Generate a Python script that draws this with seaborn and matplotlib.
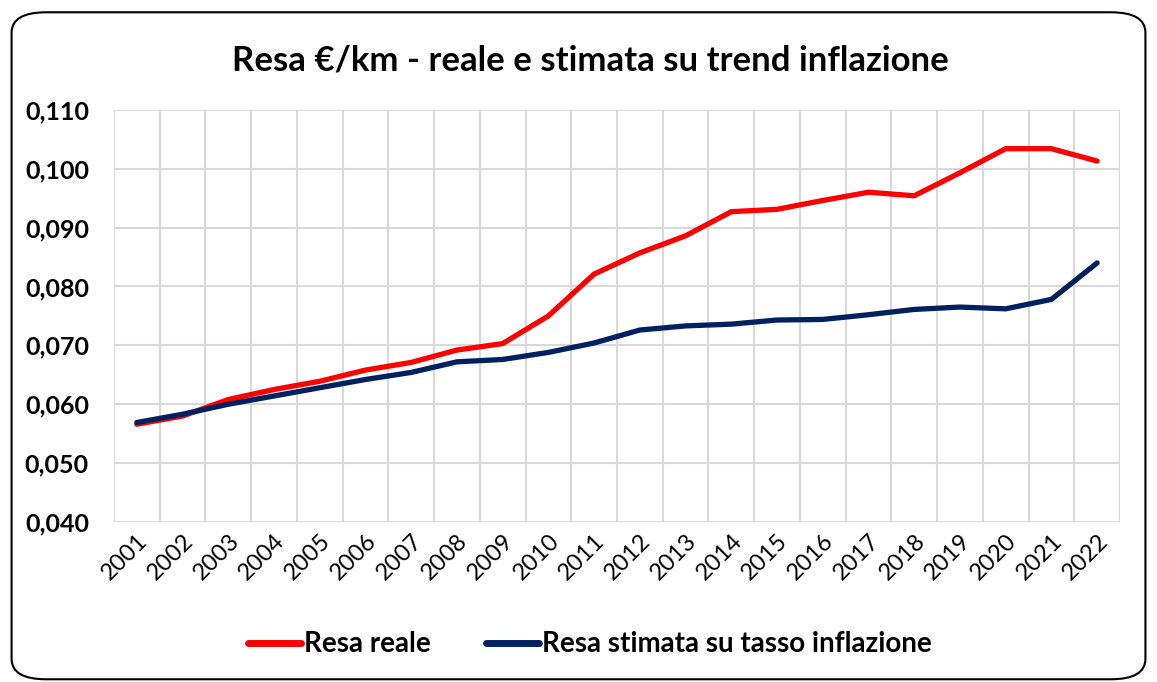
import pandas as pd
import matplotlib.pyplot as plt
import seaborn as sns
from matplotlib.patches import FancyBboxPatch
from matplotlib.ticker import FixedLocator, FuncFormatter

# dati
anni = [str(a) for a in range(2001, 2023)]
resa_reale = [0.0566, 0.0580, 0.0608, 0.0625, 0.0639, 0.0658, 0.0671, 0.0692, 0.0703, 0.0750, 0.0821,
              0.0857, 0.0886, 0.0927, 0.0931, 0.0946, 0.0960, 0.0954, 0.0993, 0.1034, 0.1034, 0.1013]
resa_stimata = [0.0569, 0.0583, 0.0600, 0.0614, 0.0628, 0.0642, 0.0654, 0.0672, 0.0676, 0.0688, 0.0704,
                0.0726, 0.0733, 0.0736, 0.0743, 0.0744, 0.0752, 0.0761, 0.0765, 0.0762, 0.0778, 0.0840]
serie = ['Resa reale', 'Resa stimata su tasso inflazione']
colori = ['#FF0000', '#002060']

df = pd.DataFrame({
    'Anno': anni * 2,
    'Valore': resa_reale + resa_stimata,
    'Serie': [serie[0]] * len(anni) + [serie[1]] * len(anni),
})

sns.set_theme(style='white')
plt.rcParams['font.family'] = ['Lato', 'DejaVu Sans']
plt.rcParams['text.color'] = 'black'
plt.rcParams['xtick.color'] = 'black'
plt.rcParams['ytick.color'] = 'black'

fig = plt.figure(figsize=(11.57, 6.82), dpi=100)
ax = fig.add_axes([0.0985, 0.2346, 0.8695, 0.6044])

sns.lineplot(data=df, x='Anno', y='Valore', hue='Serie', palette=colori, linewidth=3.8,
             ax=ax, legend=False, sort=False)

# griglia
ax.set_ylim(0.040, 0.110)
ax.set_yticks([0.04 + 0.01 * i for i in range(8)])
ax.yaxis.set_major_formatter(FuncFormatter(lambda v, p: f'{v:.3f}'.replace('.', ',')))
ax.set_xlim(-0.5, len(anni) - 0.5)
ax.xaxis.set_minor_locator(FixedLocator([i - 0.5 for i in range(len(anni) + 1)]))
ax.grid(axis='y', which='major', color='#d9d9d9', linewidth=1.5)
ax.grid(axis='x', which='minor', color='#d9d9d9', linewidth=1.5)
ax.set_axisbelow(True)
for s in ax.spines.values():
    s.set_visible(False)
ax.tick_params(axis='both', which='both', length=0, colors='black')
ax.tick_params(axis='y', pad=18)
ax.tick_params(axis='x', pad=6)

for lab in ax.get_yticklabels():
    lab.set_fontsize(18)
    lab.set_fontweight('bold')
ax.set_xticks(range(len(anni)))
ax.set_xticklabels(anni, rotation=45, ha='right', rotation_mode='anchor', fontsize=17)
ax.set_xlabel('')
ax.set_ylabel('')

fig.text(0.51, 0.912, 'Resa €/km - reale e stimata su trend inflazione', ha='center', va='center',
         fontsize=25, fontweight='bold', color='black')

# legenda
handles = [plt.Line2D([], [], color=c, linewidth=5) for c in colori]
fig.legend(handles, serie, loc='center', bbox_to_anchor=(0.51, 0.055), ncol=2, frameon=False,
           prop={'size': 20, 'weight': 'bold'}, handlelength=1.9, handletextpad=0.1, columnspacing=2.0,
           labelcolor='black')

# cornice arrotondata
bordo = FancyBboxPatch((0.01, 0.004), 0.98, 0.978, boxstyle='round,pad=0,rounding_size=0.03',
                       transform=fig.transFigure, fill=False, edgecolor='black', linewidth=1.5)
fig.patches.append(bordo)

fig.savefig('out.png', dpi=100)
